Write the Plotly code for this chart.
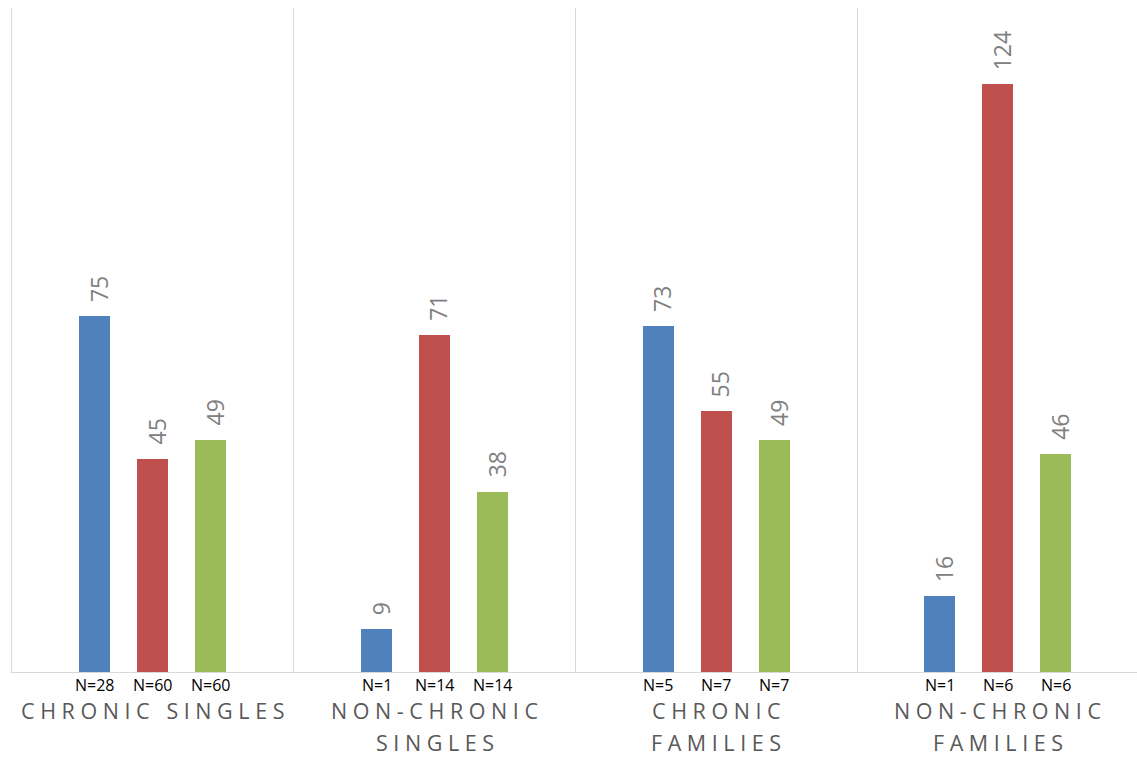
import plotly.graph_objects as go

# ---- data ----
categories = ["CHRONIC SINGLES", "NON-CHRONIC SINGLES", "CHRONIC FAMILIES", "NON-CHRONIC FAMILIES"]
category_lines = [["CHRONIC SINGLES"], ["NON-CHRONIC", "SINGLES"], ["CHRONIC", "FAMILIES"], ["NON-CHRONIC", "FAMILIES"]]
series_names = ["Series 1", "Series 2", "Series 3"]
blue_values = [75, 9, 73, 16]
red_values = [45, 71, 55, 124]
green_values = [49, 38, 49, 46]
blue_n = [28, 1, 5, 1]
red_n = [60, 14, 7, 6]
green_n = [60, 14, 7, 6]

values = [blue_values, red_values, green_values]
ns = [blue_n, red_n, green_n]
colors = ["#4F81BD", "#C0504D", "#9BBB59"]
offsets = [-0.206, 0.0, 0.206]
bar_width = 0.11
FONT = "Open Sans"


def spaced(text):
    return "   ".join(" ".join(list(w)) for w in text.split(" "))


fig = go.Figure()
annotations = []
for s in range(3):
    xs = [g + 0.5 + offsets[s] for g in range(len(categories))]
    fig.add_trace(go.Bar(
        x=xs, y=values[s], width=bar_width, name=series_names[s],
        marker=dict(color=colors[s], line=dict(width=0)),
        showlegend=False,
    ))
    for x, v, n in zip(xs, values[s], ns[s]):
        annotations.append(dict(
            x=x, y=v, xref="x", yref="y", text=str(v), textangle=-90,
            showarrow=False, yanchor="bottom", xanchor="center",
            yshift=12, xshift=4,
            font=dict(family=FONT, size=23, color="#808080"),
        ))
        annotations.append(dict(
            x=x, y=0, xref="x", yref="y", text=f"N={n}",
            showarrow=False, yanchor="middle", xanchor="center",
            yshift=-13, borderpad=0,
            font=dict(family=FONT, size=16, color="#000000"),
        ))

for g, lines in enumerate(category_lines):
    for i, line in enumerate(lines):
        annotations.append(dict(
            x=g + 0.5, y=0, xref="x", yref="y", text=spaced(line),
            showarrow=False, yanchor="middle", xanchor="center",
            yshift=-38 - 32 * i, borderpad=0,
            font=dict(family=FONT, size=21.5, color="#595959"),
        ))

fig.update_layout(
    width=1137, height=757,
    margin=dict(l=12, r=0, t=8, b=85),
    paper_bgcolor="white", plot_bgcolor="white",
    annotations=annotations,
    bargap=0,
    xaxis=dict(range=[0, 3.9936], tickvals=[0, 1, 2, 3, 4], showgrid=True,
               gridcolor="#d9d9d9", gridwidth=1, showticklabels=False,
               zeroline=False, showline=True, linecolor="#d9d9d9", linewidth=1,
               ticks=""),
    yaxis=dict(range=[0, 140], showgrid=False, showticklabels=False,
               zeroline=False, showline=True, linecolor="#d9d9d9", linewidth=1,
               ticks=""),
)

fig.write_html("out.html")
